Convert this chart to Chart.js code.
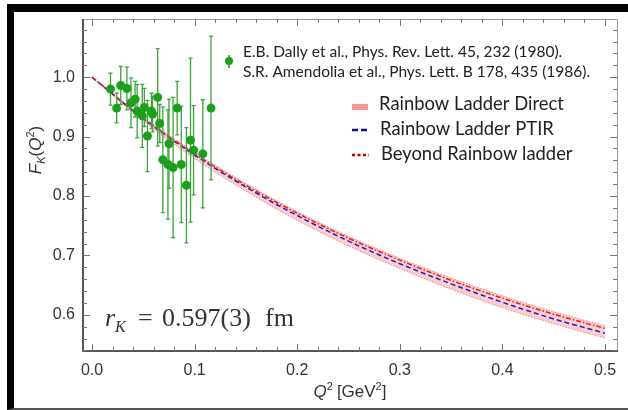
<!DOCTYPE html>
<html>
<head>
<meta charset="utf-8">
<script src="https://cdn.jsdelivr.net/npm/chart.js@4.4.1/dist/chart.umd.min.js"></script>
<style>
	html, body { margin: 0; padding: 0; background: #fff; }
	#wrap { position: relative; width: 628px; height: 410px; }
	#frame { position: absolute; left: 7px; top: 4px; right: 0; bottom: 0; border-top: 8px solid #000; border-left: 7px solid #000; border-bottom: 2px solid #555; pointer-events: none; }
</style>
</head>
<body>
<div id="wrap">
	<canvas id="kaonChart" width="628" height="410"></canvas>
	<div id="frame"></div>
</div>
<script>
// curves
const q2Curve = [0, 0.05, 0.1, 0.15, 0.2, 0.25, 0.3, 0.35, 0.4, 0.45, 0.5];
const ptirFK = [1.000, 0.930, 0.869, 0.815, 0.767, 0.724, 0.686, 0.652, 0.621, 0.593, 0.569];
const beyondFK = [1.000, 0.931, 0.871, 0.818, 0.771, 0.729, 0.692, 0.658, 0.628, 0.601, 0.577];
const directHi = [1.000, 0.933, 0.874, 0.821, 0.774, 0.732, 0.695, 0.662, 0.632, 0.605, 0.581];
const directLo = [1.000, 0.926, 0.863, 0.808, 0.759, 0.716, 0.678, 0.643, 0.612, 0.585, 0.561];

// experimental points (Dally 1980, Amendolia 1986)
const q2Exp = [0.018, 0.024, 0.028, 0.034, 0.038, 0.042, 0.044, 0.049, 0.051, 0.054, 0.058, 0.059, 0.064, 0.066, 0.069, 0.074, 0.075, 0.079, 0.083, 0.087, 0.092, 0.096, 0.099, 0.108, 0.116];
const fkExp = [0.980, 0.948, 0.986, 0.981, 0.957, 0.963, 0.943, 0.935, 0.949, 0.901, 0.943, 0.938, 0.966, 0.922, 0.861, 0.853, 0.888, 0.848, 0.948, 0.853, 0.818, 0.894, 0.877, 0.871, 0.948];
const fkErr = [0.027, 0.025, 0.032, 0.036, 0.042, 0.030, 0.045, 0.053, 0.032, 0.060, 0.030, 0.030, 0.082, 0.032, 0.089, 0.092, 0.075, 0.118, 0.045, 0.098, 0.097, 0.138, 0.075, 0.091, 0.121];

const xTicks = [0, 0.1, 0.2, 0.3, 0.4, 0.5];
const yTicks = [0.6, 0.7, 0.8, 0.9, 1.0];

const green = 'rgb(28,160,28)';

function pairs(xs, ys) {
	return xs.map((x, i) => ({ x: x, y: ys[i] }));
}

function drawRich(ctx, parts, x, y) {
	let total = 0;
	parts.forEach(p => { ctx.font = p.font; total += ctx.measureText(p.t).width + (p.gap || 0); });
	let cx = x - total / 2;
	parts.forEach(p => {
		ctx.font = p.font;
		ctx.fillText(p.t, cx, y + (p.dy || 0));
		cx += ctx.measureText(p.t).width + (p.gap || 0);
	});
}

const errorBars = {
	id: 'errorBars',
	beforeDatasetDraw(chart, args) {
		if (args.index !== 0) return;
		const ctx = chart.ctx;
		const xs = chart.scales.x, ys = chart.scales.y;
		ctx.save();
		ctx.strokeStyle = 'rgb(60,165,60)';
		ctx.lineWidth = 1.3;
		q2Exp.forEach((q, i) => {
			const px = xs.getPixelForValue(q);
			const top = ys.getPixelForValue(fkExp[i] + fkErr[i]);
			const bot = ys.getPixelForValue(fkExp[i] - fkErr[i]);
			ctx.beginPath();
			ctx.moveTo(px, top); ctx.lineTo(px, bot);
			ctx.moveTo(px - 2, top); ctx.lineTo(px + 2, top);
			ctx.moveTo(px - 2, bot); ctx.lineTo(px + 2, bot);
			ctx.stroke();
		});
		ctx.restore();
	}
};

const frameAndText = {
	id: 'frameAndText',
	afterDraw(chart) {
		const ctx = chart.ctx;
		const a = chart.chartArea;
		const xs = chart.scales.x, ys = chart.scales.y;
		ctx.save();
		// frame
		ctx.strokeStyle = '#999';
		ctx.lineWidth = 1;
		ctx.beginPath();
		ctx.moveTo(a.left, a.top + 0.5); ctx.lineTo(a.right + 0.5, a.top + 0.5); ctx.lineTo(a.right + 0.5, a.bottom);
		ctx.stroke();
		ctx.strokeStyle = '#222';
		ctx.lineWidth = 1.5;
		ctx.beginPath();
		ctx.moveTo(a.left, a.top); ctx.lineTo(a.left, a.bottom); ctx.lineTo(a.right + 1, a.bottom);
		ctx.stroke();
		// inward ticks
		ctx.strokeStyle = '#777';
		ctx.lineWidth = 1;
		ctx.beginPath();
		for (let k = 0; k <= 25; k++) {
			const v = k * 0.02;
			const len = k % 5 === 0 ? 7 : 4;
			const px = Math.round(xs.getPixelForValue(v)) + 0.5;
			ctx.moveTo(px, a.bottom); ctx.lineTo(px, a.bottom - len);
			ctx.moveTo(px, a.top); ctx.lineTo(px, a.top + len);
		}
		for (let k = 27; k <= 54; k++) {
			const v = k * 0.02;
			if (v < ys.min || v > ys.max) continue;
			const len = k % 5 === 0 ? 7 : 4;
			const py = Math.round(ys.getPixelForValue(v)) + 0.5;
			ctx.moveTo(a.left, py); ctx.lineTo(a.left + len, py);
			ctx.moveTo(a.right, py); ctx.lineTo(a.right - len, py);
		}
		ctx.stroke();

		ctx.fillStyle = '#333';
		ctx.textBaseline = 'alphabetic';
		// x title
		drawRich(ctx, [
			{ t: 'Q', font: 'italic 17px "Liberation Sans"' },
			{ t: '2', font: '11px "Liberation Sans"', dy: -7, gap: 4 },
			{ t: '[GeV', font: '17px "Liberation Sans"' },
			{ t: '2', font: '11px "Liberation Sans"', dy: -7 },
			{ t: ']', font: '17px "Liberation Sans"' }
		], (a.left + a.right) / 2, 397);
		// y title
		ctx.save();
		ctx.translate(41, 150);
		ctx.rotate(-Math.PI / 2);
		drawRich(ctx, [
			{ t: 'F', font: 'italic 17px "Liberation Sans"' },
			{ t: 'K', font: 'italic 11px "Liberation Sans"', dy: 4 },
			{ t: '(', font: '17px "Liberation Sans"' },
			{ t: 'Q', font: 'italic 17px "Liberation Sans"' },
			{ t: '2', font: '11px "Liberation Sans"', dy: -7 },
			{ t: ')', font: '17px "Liberation Sans"' }
		], 0, 0);
		ctx.restore();

		// radius annotation
		ctx.fillStyle = '#333';
		ctx.textAlign = 'left';
		ctx.font = 'italic 26px "Liberation Serif"';
		ctx.fillText('r', 105, 326);
		ctx.font = 'italic 16px "Liberation Serif"';
		ctx.fillText('K', 115, 332);
		ctx.font = '26px "Liberation Serif"';
		ctx.fillText('=', 138, 326);
		ctx.fillText('0.597(3)', 162, 326);
		ctx.fillText('fm', 265, 326);

		// legend: data
		ctx.fillStyle = green;
		ctx.strokeStyle = green;
		ctx.lineWidth = 1.5;
		ctx.beginPath(); ctx.moveTo(229, 55); ctx.lineTo(229, 68); ctx.stroke();
		ctx.beginPath(); ctx.arc(229, 61, 4, 0, Math.PI * 2); ctx.fill();
		ctx.fillStyle = '#222';
		ctx.textBaseline = 'middle';
		ctx.font = '15.5px Lato';
		ctx.fillText('E.B. Dally et al., Phys. Rev. Lett. 45, 232 (1980).', 243, 52);
		ctx.fillText('S.R. Amendolia et al., Phys. Lett. B 178, 435 (1986).', 243, 72);

		// legend: curves
		ctx.fillStyle = 'rgb(248,150,150)';
		ctx.fillRect(352, 104, 16, 6);
		ctx.strokeStyle = '#0a0aa0';
		ctx.lineWidth = 2.5;
		ctx.setLineDash([6, 3]);
		ctx.beginPath(); ctx.moveTo(352, 130); ctx.lineTo(369, 130); ctx.stroke();
		ctx.strokeStyle = '#c00000';
		ctx.setLineDash([3, 2.5]);
		ctx.beginPath(); ctx.moveTo(352, 155); ctx.lineTo(369, 155); ctx.stroke();
		ctx.setLineDash([]);
		ctx.fillStyle = '#222';
		ctx.font = '18.4px Lato';
		ctx.fillText('Rainbow Ladder Direct', 379, 104);
		ctx.fillText('Rainbow Ladder PTIR', 380, 129);
		ctx.fillText('Beyond Rainbow ladder', 381, 154);
		ctx.restore();
	}
};

const ctx = document.getElementById('kaonChart');
new Chart(ctx, {
	type: 'line',
	data: {
		datasets: [{
			label: 'Data',
			data: pairs(q2Exp, fkExp),
			showLine: false,
			pointRadius: 4.5,
			pointBackgroundColor: green,
			pointBorderWidth: 0
		}, {
			label: 'Beyond Rainbow ladder',
			data: pairs(q2Curve, beyondFK),
			borderColor: 'rgb(230,30,30)',
			borderWidth: 1.5,
			borderDash: [5, 2, 1.5, 2],
			pointRadius: 0,
			cubicInterpolationMode: 'monotone'
		}, {
			label: 'Rainbow Ladder PTIR',
			data: pairs(q2Curve, ptirFK),
			borderColor: 'rgb(30,30,200)',
			borderWidth: 1.5,
			borderDash: [5, 3],
			pointRadius: 0,
			cubicInterpolationMode: 'monotone'
		}, {
			label: 'Direct low',
			data: pairs(q2Curve, directLo),
			borderColor: 'rgba(240,120,120,0.9)',
			borderWidth: 1,
			borderDash: [1.5, 1.5],
			pointRadius: 0,
			cubicInterpolationMode: 'monotone'
		}, {
			label: 'Rainbow Ladder Direct',
			data: pairs(q2Curve, directHi),
			borderColor: 'rgba(240,120,120,0.9)',
			borderWidth: 1,
			borderDash: [1.5, 1.5],
			backgroundColor: 'rgba(250,165,165,0.55)',
			fill: '-1',
			pointRadius: 0,
			cubicInterpolationMode: 'monotone'
		}]
	},
	options: {
		responsive: false,
		animation: false,
		layout: { padding: { top: 19, right: 11, left: 0, bottom: 0 } },
		plugins: { legend: { display: false }, tooltip: { enabled: false } },
		scales: {
			x: {
				type: 'linear',
				min: -0.0088,
				max: 0.5117,
				grid: { display: false },
				border: { display: false },
				afterBuildTicks: (s) => { s.ticks = xTicks.map(v => ({ value: v })); },
				afterFit: (s) => { s.height = 59; },
				ticks: {
					padding: 2,
					color: '#333',
					font: { family: '"Liberation Sans"', size: 16 },
					callback: (v) => v.toFixed(1)
				}
			},
			y: {
				type: 'linear',
				min: 0.539,
				max: 1.098,
				grid: { display: false },
				border: { display: false },
				afterBuildTicks: (s) => { s.ticks = yTicks.map(v => ({ value: v })); },
				afterFit: (s) => { s.width = 83; },
				ticks: {
					padding: 0,
					color: '#333',
					font: { family: '"Liberation Sans"', size: 16 },
					callback: (v) => v.toFixed(1)
				}
			}
		}
	},
	plugins: [errorBars, frameAndText]
});
</script>
</body>
</html>
